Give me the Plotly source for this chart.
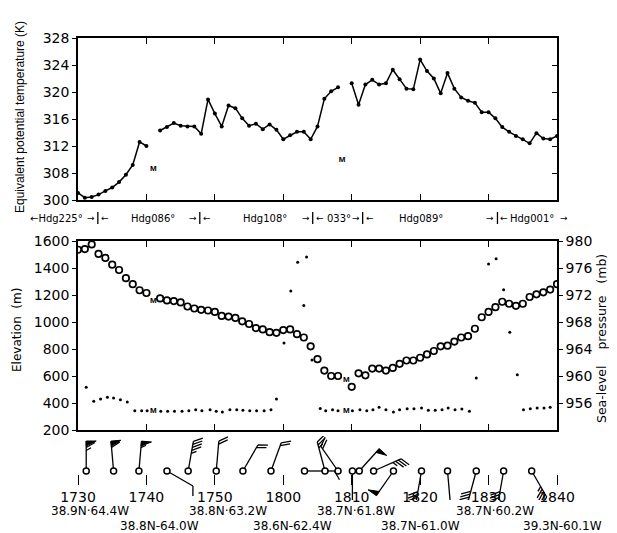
import math
import plotly.graph_objects as go

# ---------------- data ----------------
# time axis: minutes after 1730
time_tickvals = [0, 10, 20, 30, 40, 50, 60, 70]
time_ticktext = ["1730", "1740", "1750", "1800", "1810", "1820", "1830", "1840"]

# equivalent potential temperature (K); None = gap
te_time = [0, 1, 2, 3, 4, 5, 6, 7, 8, 9, 10, None,
           12, 13, 14, 15, 16, 17, 18, 19, 20, 21, 22, 23, 24, 25, 26, 27, 28, 29, 30,
           31, 32, 33, 34, 35, 36, 37, 38, None,
           40, 41, 42, 43, 44, 45, 46, 47, 48, 49, 50, 51, 52, 53, 54, 55, 56, 57, 58,
           59, 60, 61, 62, 63, 64, 65, 66, 67, 68, 69, 70]
te_val = [302.1, 300.7, 300.9, 301.6, 302.7, 303.7, 305.3, 307.5, 309.2, 312.6, 312.0, None,
          314.3, 314.8, 315.4, 315.0, 314.9, 314.9, 313.8, 318.9, 316.8, 314.9, 318.0, 317.6,
          316.1, 315.0, 315.3, 314.5, 315.2, 314.4, 313.0, 313.6, 314.1, 314.1, 313.0, 314.9,
          319.0, 320.1, 320.7, None,
          321.3, 318.1, 321.1, 321.8, 321.1, 321.3, 323.3, 321.9, 320.5, 320.4, 324.8, 323.1,
          322.0, 319.8, 322.8, 320.5, 319.2, 318.7, 318.4, 317.0, 317.0, 316.1, 314.8, 314.1,
          313.5, 313.0, 312.4, 313.9, 313.1, 313.0, 313.5]
te_missing_time = [11.0, 38.6]
te_missing_val = [308.6, 309.9]
te_ticks = [300, 308, 312, 316, 320, 324, 328]

# sea-level pressure (mb), open circles
slp_time = [0, 1, 2, 3, 4, 5, 6, 7, 8, 9, 10, 12, 13, 14, 15, 16, 17, 18, 19, 20, 21, 22,
            23, 24, 25, 26, 27, 28, 29, 30, 31, 32, 33, 34, 35, 36, 37, 38, 40, 41, 42, 43,
            44, 45, 46, 47, 48, 49, 50, 51, 52, 53, 54, 55, 56, 57, 58, 59, 60, 61, 62, 63,
            64, 65, 66, 67, 68, 69, 70]
slp_val = [978.7, 978.8, 979.5, 978.1, 977.5, 976.5, 975.7, 974.5, 973.6, 972.7, 972.3,
           971.5, 971.2, 971.1, 970.9, 970.3, 970.0, 969.8, 969.7, 969.5, 968.9, 968.8,
           968.6, 968.1, 967.7, 967.1, 966.9, 966.5, 966.4, 966.8, 966.9, 966.2, 965.7,
           964.4, 962.5, 960.8, 960.0, 960.0, 958.4, 960.4, 960.1, 961.1, 961.1, 960.8,
           961.2, 961.8, 962.3, 962.3, 962.7, 963.2, 963.7, 964.4, 964.5, 965.1, 965.7,
           965.9, 967.0, 968.7, 969.5, 970.2, 971.0, 970.7, 970.4, 970.7, 971.7, 972.1,
           972.4, 972.8, 973.6]
slp_missing_time = [11.0, 39.2]
slp_missing_val = [971.1, 959.4]

# aircraft elevation (m), small dots
elev_time = [1.2, 2.3, 3.3, 4.3, 5.2, 6.2, 7.2, 8.3, 9.3, 10.1, 12.1, 13.1, 14.1, 15.2,
             16.2, 17.2, 18.1, 19.3, 20.2, 21.1, 22.2, 23.2, 24.1, 25.1, 26.1, 27.2, 28.2,
             29.0, 30.1, 31.1, 32.1, 33.0, 33.4, 34.2, 35.4, 36.2, 37.2, 38.0, 40.1, 41.2,
             42.2, 43.1, 44.0, 45.0, 46.1, 47.0, 48.1, 49.1, 50.2, 51.2, 52.2, 53.2, 54.1,
             55.1, 56.1, 57.2, 58.2, 60.0, 61.1, 62.2, 63.1, 64.2, 65.1, 66.1, 67.1, 68.1,
             69.0]
elev_val = [516, 413, 430, 442, 437, 424, 407, 343, 343, 343, 339, 339, 339, 339,
            343, 350, 343, 350, 339, 333, 350, 350, 346, 343, 343, 343, 350,
            430, 844, 1229, 1443, 1122, 1481, 718, 360, 343, 350, 343, 343, 350,
            343, 350, 368, 350, 333, 350, 358, 358, 363, 346, 346, 350, 363,
            350, 355, 339, 585, 1430, 1469, 1239, 924, 610, 350, 358, 363, 363,
            368]
elev_missing_time = [11.0, 39.2]
elev_missing_val = [343, 343]

# aircraft headings
hdg_change_time = [2.9, 17.8, 34.3, 41.6, 61.3]
hdg_label = ["\u2190Hdg225\u00b0", "Hdg086\u00b0", "Hdg108\u00b0", "033\u00b0", "Hdg089\u00b0", "Hdg001\u00b0"]
hdg_label_time = [-3.1, 11.0, 27.4, 38.2, 50.1, 66.3]

# winds (direction deg, speed kt)
wind_time = [1.2, 5.2, 8.9, 13.0, 16.1, 20.2, 24.1, 28.2, 33.1, 36.1, 38.0, 40.1, 41.1,
             43.2, 46.1, 50.2, 54.0, 58.2, 62.2, 66.3]
wind_dir = [0, 355, 5, 120, 10, 5, 30, 20, 90, 345, 325, 180, 42, 66, 215, 190, 175,
            195, 190, 150]
wind_spd = [65, 60, 55, 10, 45, 20, 20, 20, 10, 25, 20, 10, 50, 35, 50, 40, 10, 40, 40, 45]

# positions
pos_time = [1.7, 11.9, 21.9, 31.3, 40.6, 50.0, 61.0, 70.8]
pos_label = ["38.9N\u00b764.4W", "38.8N-64.0W", "38.8N\u00b763.2W", "38.6N-62.4W",
             "38.7N\u00b761.8W", "38.7N-61.0W", "38.7N\u00b760.2W", "39.3N-60.1W"]

# ---------------- layout geometry ----------------
OFF = 8                      # page body margin of the browser
W, H = 609, 525
ML, MT = 70, 22
PW, PH = 479, 483
MR = W - ML - PW
MB = H - MT - PH
PB = MT + PH
px_per_min = PW / 70.0
FONT = "DejaVu Sans"


def fy(py):   # screen pixel y -> paper fraction
    return (PB - (py - OFF)) / PH


def fx(px):   # screen pixel x -> paper fraction
    return (px - OFF - ML) / PW


def tx(t):    # minutes -> paper fraction
    return t / 70.0


def te_pos(v):
    # broken axis: 300-308 compressed into the space of 304-308
    if v is None:
        return None
    return 304 + (v - 300) / 2.0 if v < 308 else v


fig = go.Figure()

MFONT = dict(family="Liberation Sans", size=8, color="black")

# ---- top panel ----
fig.add_trace(go.Scatter(x=te_time, y=[te_pos(v) for v in te_val], mode="lines+markers",
                         line=dict(color="black", width=1.5),
                         marker=dict(color="black", size=4),
                         xaxis="x", yaxis="y", connectgaps=False, showlegend=False))
fig.add_trace(go.Scatter(x=te_missing_time, y=[te_pos(v) for v in te_missing_val], mode="text",
                         text=["<b>M</b>"] * len(te_missing_time), textfont=MFONT,
                         xaxis="x", yaxis="y", showlegend=False))
fig.add_trace(go.Scatter(x=[None], y=[None], xaxis="x", yaxis="y5", showlegend=False))

# ---- bottom panel ----
fig.add_trace(go.Scatter(x=slp_time, y=slp_val, mode="markers",
                         marker=dict(symbol="circle-open", size=6.5, color="black",
                                     line=dict(width=1.7, color="black")),
                         xaxis="x2", yaxis="y3", showlegend=False))
fig.add_trace(go.Scatter(x=elev_time, y=elev_val, mode="markers",
                         marker=dict(color="black", size=3),
                         xaxis="x2", yaxis="y2", showlegend=False))
fig.add_trace(go.Scatter(x=slp_missing_time, y=slp_missing_val, mode="text",
                         text=["<b>M</b>"] * 2, textfont=MFONT,
                         xaxis="x2", yaxis="y3", showlegend=False))
fig.add_trace(go.Scatter(x=elev_missing_time, y=elev_missing_val, mode="text",
                         text=["<b>M</b>"] * 2, textfont=MFONT,
                         xaxis="x2", yaxis="y2", showlegend=False))

# ---- wind barbs ----
BARB_TOP, BARB_BOT = 436, 500          # screen pixels of barb strip
STATION_Y = BARB_BOT - 471
L_STAFF, B_LEN, B_SP = 30.0, 10.0, 3.0
lx, ly, pxs, pys = [], [], [], []
for t, d, s in zip(wind_time, wind_dir, wind_spd):
    th = math.radians(d)
    u = (math.sin(th), math.cos(th))
    r = (math.cos(th), -math.sin(th))

    def P(dx, dy):
        return t + dx / px_per_min, STATION_Y + dy

    e = (L_STAFF * u[0], L_STAFF * u[1])
    for a, b in [P(0, 0), P(*e)]:
        lx.append(a); ly.append(b)
    lx.append(None); ly.append(None)
    rem = int(round(s / 5.0)) * 5
    pos = 0.0
    while rem >= 50:
        b1 = (e[0] - pos * u[0], e[1] - pos * u[1])
        tip = (b1[0] + B_LEN * r[0], b1[1] + B_LEN * r[1])
        b2 = (e[0] - (pos + 5) * u[0], e[1] - (pos + 5) * u[1])
        for q in (b1, tip, b2, b1):
            a, b = P(*q)
            pxs.append(a); pys.append(b)
        pxs.append(None); pys.append(None)
        pos += 6.5
        rem -= 50
    while rem >= 5:
        ln = B_LEN if rem >= 10 else B_LEN * 0.55
        b1 = (e[0] - pos * u[0], e[1] - pos * u[1])
        tip = (b1[0] + ln * (0.87 * r[0] + 0.5 * u[0]), b1[1] + ln * (0.87 * r[1] + 0.5 * u[1]))
        for q in (b1, tip):
            a, b = P(*q)
            lx.append(a); ly.append(b)
        lx.append(None); ly.append(None)
        pos += B_SP
        rem -= 10 if rem >= 10 else 5

fig.add_trace(go.Scatter(x=lx, y=ly, mode="lines", line=dict(color="black", width=1.3),
                         xaxis="x3", yaxis="y4", showlegend=False, hoverinfo="skip"))
fig.add_trace(go.Scatter(x=pxs, y=pys, mode="lines", fill="toself", fillcolor="black",
                         line=dict(color="black", width=1),
                         xaxis="x3", yaxis="y4", showlegend=False, hoverinfo="skip"))
fig.add_trace(go.Scatter(x=wind_time, y=[STATION_Y] * len(wind_time), mode="markers",
                         marker=dict(symbol="circle", size=6, color="white",
                                     line=dict(width=1.5, color="black")),
                         xaxis="x3", yaxis="y4", showlegend=False))

axis_common = dict(showline=True, linecolor="black", linewidth=1.6, showgrid=False,
                   zeroline=False, tickcolor="black", tickwidth=1.4,
                   tickfont=dict(family=FONT, size=14, color="black"))

top_dom = [fy(200), fy(38)]
bot_dom = [fy(430), fy(241)]
barb_dom = [fy(BARB_BOT), fy(BARB_TOP)]

fig.update_layout(
    width=W, height=H, margin=dict(l=ML, r=MR, t=MT, b=MB, autoexpand=False),
    paper_bgcolor="white", plot_bgcolor="white", showlegend=False,
    xaxis=dict(domain=[0, 1], range=[0, 70], anchor="y", ticks="inside", ticklen=6,
               tickvals=[10, 20, 30, 40, 50, 60], showticklabels=False, mirror="ticks",
               **axis_common),
    yaxis=dict(domain=top_dom, range=[304, 328], anchor="x", ticks="outside", ticklen=4,
               tickvals=[te_pos(v) for v in te_ticks], ticktext=[str(v) for v in te_ticks],
               mirror=True, **axis_common),
    yaxis5=dict(range=[304, 328], overlaying="y", side="right", anchor="x",
                ticks="inside", ticklen=5, tickvals=[te_pos(v) for v in te_ticks],
                showticklabels=False, showline=False, showgrid=False, zeroline=False,
                tickcolor="black", tickwidth=1.4),
    xaxis2=dict(domain=[0, 1], range=[0, 70], anchor="y2", ticks="inside", ticklen=6,
                tickvals=[10, 20, 30, 40, 50, 60], showticklabels=False, mirror="ticks",
                **axis_common),
    yaxis2=dict(domain=bot_dom, range=[200, 1600], anchor="x2", ticks="outside", ticklen=4,
                tickvals=[200, 400, 600, 800, 1000, 1200, 1400, 1600], **axis_common),
    yaxis3=dict(range=[952, 980], overlaying="y2", side="right", anchor="x2",
                ticks="outside", ticklen=4, tickvals=[956, 960, 964, 968, 972, 976, 980],
                **axis_common),
    xaxis3=dict(domain=[0, 1], range=[0, 70], anchor="free", position=fy(474),
                showline=False, showgrid=False, zeroline=False, ticks="outside", ticklen=10,
                tickcolor="black", tickwidth=1.4, tickvals=time_tickvals,
                ticktext=time_ticktext, tickfont=dict(family=FONT, size=14, color="black")),
    yaxis4=dict(domain=barb_dom, range=[0, BARB_BOT - BARB_TOP], anchor="x3", visible=False),
)

ann = []


def add_text(x, y, text, size=11, angle=0, xanchor="center", family=FONT, xshift=0):
    ann.append(dict(x=x, y=y, xref="paper", yref="paper", showarrow=False, text=text,
                    textangle=angle, xanchor=xanchor, yanchor="middle", xshift=xshift,
                    font=dict(family=family, size=size, color="black")))


# axis titles
add_text(fx(20), fy(117), "Equivalent potential temperature (K)", size=12, angle=-90,
         family="Liberation Sans")
add_text(fx(17), fy(330), "Elevation  (m)", size=12, angle=-90)
add_text(fx(601), fy(339), "Sea-level    pressure   (mb)", size=12.5, angle=-90)

# heading labels
HY = fy(218)
for t, lab in zip(hdg_label_time, hdg_label):
    add_text(tx(t), HY, lab, size=10)
for t in hdg_change_time:
    add_text(tx(t), HY, "\u2192", size=9, xanchor="right", xshift=-1)
    add_text(tx(t), HY, "\u2190", size=9, xanchor="left", xshift=1)
add_text(tx(71.0), HY, "\u2192", size=9)

# positions
for i, (t, lab) in enumerate(zip(pos_time, pos_label)):
    add_text(tx(t), fy(511 if i % 2 == 0 else 526), lab, size=12)

fig.update_layout(annotations=ann)

shapes = []
for t in hdg_change_time:
    shapes.append(dict(type="line", xref="x", yref="paper", x0=t, x1=t, y0=fy(224), y1=fy(212),
                       line=dict(color="black", width=1.3)))
fig.update_layout(shapes=shapes)

fig.write_html("out.html")
